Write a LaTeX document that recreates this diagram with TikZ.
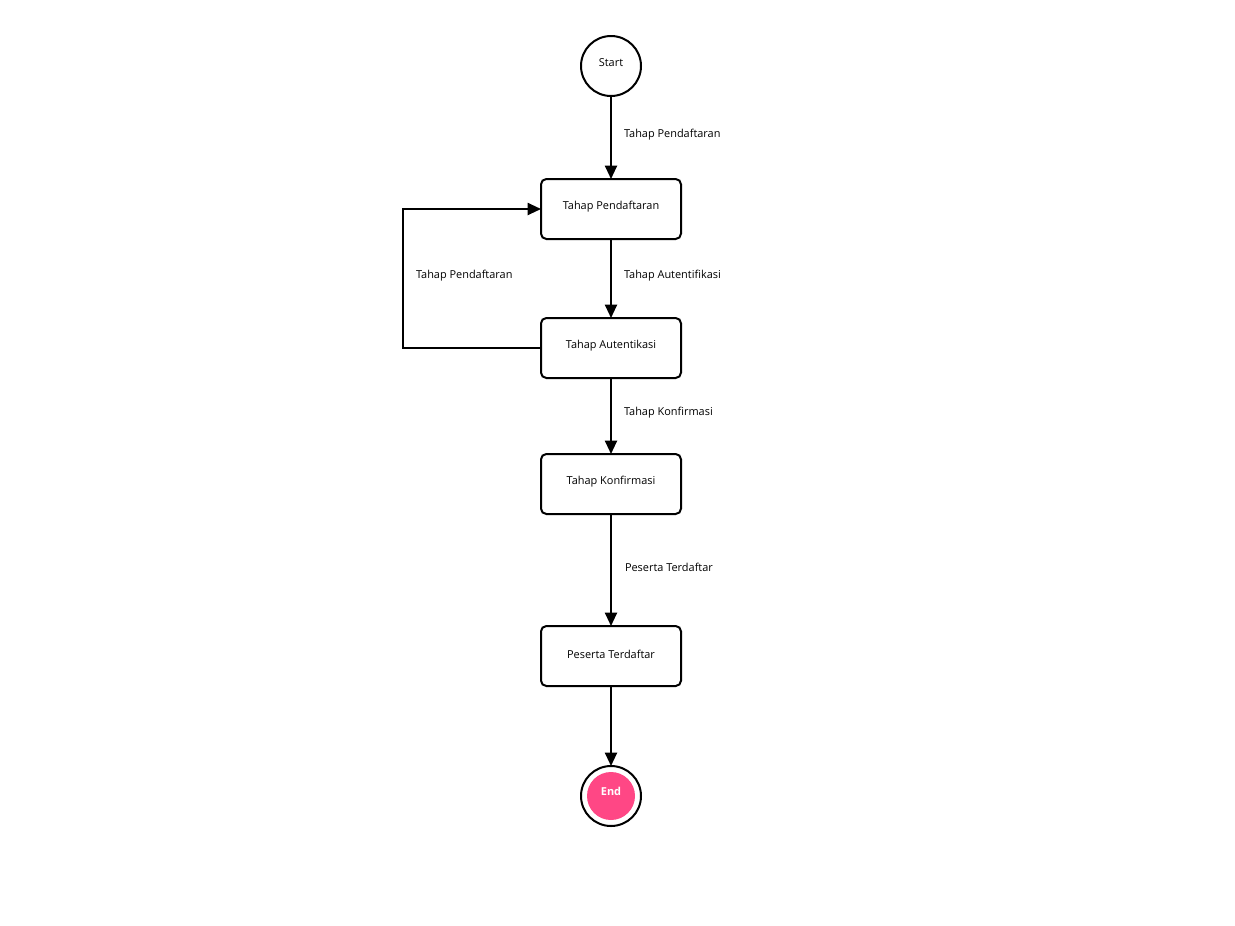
\documentclass[tikz,border=0pt]{standalone}
\usepackage{fontspec}
\setmainfont{Open Sans}
\usetikzlibrary{arrows.meta}
\definecolor{endpink}{HTML}{FF4785}
\begin{document}
\begin{tikzpicture}[x=0.75pt,y=-0.75pt,
  font=\fontsize{8.2pt}{10pt}\selectfont,
  line width=1.5pt,
  flow/.style={-{Triangle[width=9pt,length=10pt]}},
  statebox/.style={draw, rounded corners=4pt, minimum width=105pt, minimum height=45pt, inner sep=0pt, outer sep=0pt},
  startnode/.style={draw, circle, minimum size=45pt, inner sep=0pt, outer sep=0pt},
  lbl/.style={anchor=west, inner sep=0pt}]
\useasboundingbox (0,0) rectangle (1235,925);

% states
\node[startnode] (start) at (611,66) {};
\node at (611,63) {Start};
\node[statebox] (daftar) at (611,209) {};
\node at (611,207) {Tahap Pendaftaran};
\node[statebox] (auth) at (611,348) {};
\node at (611,346) {Tahap Autentikasi};
\node[statebox] (konf) at (611,484) {};
\node at (611,482) {Tahap Konfirmasi};
\node[statebox] (terdaftar) at (611,656) {};
\node at (611,654) {Peserta Terdaftar};

% final state
\node[startnode] (end) at (611,796) {};
\node[circle, fill=endpink, minimum size=36pt, inner sep=0pt] (endfill) at (611,796) {};
\node[text=white, font=\fontsize{8.2pt}{10pt}\selectfont\bfseries] at (611,791) {End};

% transitions
\draw[flow] (start) -- (daftar);
\node[lbl] at (623,135) {Tahap Pendaftaran};
\draw[flow] (daftar) -- (auth);
\node[lbl] at (623,276) {Tahap Autentifikasi};
\draw[flow] (auth) -- (konf);
\node[lbl] at (623,413) {Tahap Konfirmasi};
\draw[flow] (konf) -- (terdaftar);
\node[lbl] at (624,567) {Peserta Terdaftar};
\draw[flow] (terdaftar) -- (end);

% loop back from authentication to registration
\coordinate (loopbot) at (403,348);
\coordinate (looptop) at (403,209);
\draw[flow] (auth.west) -- (loopbot) -- (looptop) -- (daftar.west);
\node[lbl] at (415,276) {Tahap Pendaftaran};
\end{tikzpicture}
\end{document}
